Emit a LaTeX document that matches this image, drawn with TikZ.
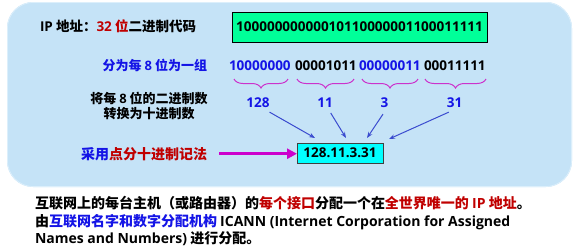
\documentclass[tikz,border=0pt]{standalone}
\usepackage{fontspec}
\setmainfont{Noto Sans CJK SC}
\newfontfamily\lat{Open Sans}
\usetikzlibrary{decorations.pathreplacing,arrows.meta}

\definecolor{panel}{HTML}{C5E3F7}
\definecolor{panelrim}{HTML}{DCEFFB}
\definecolor{bitgreen}{HTML}{00FF99}
\definecolor{ipcyan}{HTML}{00FFFF}
\definecolor{txtblue}{HTML}{1414E6}
\definecolor{txtred}{HTML}{C00000}
\definecolor{bracecol}{HTML}{CC33CC}
\definecolor{arrowblue}{HTML}{3A4BCF}
\definecolor{magentaarrow}{HTML}{CC00CC}

\tikzset{
  txt/.style={inner sep=0pt, outer sep=0pt, font=\fontsize{13.5}{16}\selectfont\bfseries},
  small/.style={txt, font=\fontsize{13}{15}\selectfont\bfseries},
  body/.style={txt, font=\fontsize{14}{18}\selectfont\bfseries, anchor=base west},
  group/.style={txt, anchor=base west},
  grpbrace/.style={draw=bracecol, line width=1pt,
    decorate, decoration={brace, mirror, amplitude=9pt}},
  numarrow/.style={draw=arrowblue, line width=1pt,
    -{Stealth[length=6pt,width=4.5pt]}},
  bigarrow/.style={draw=magentaarrow, line width=3.5pt,
    -{Triangle[length=10pt,width=10pt]}},
}

\begin{document}
\begin{tikzpicture}[x=1pt,y=-1pt]
\useasboundingbox (0,0) rectangle (581,247);

% background panel
\fill[panel, rounded corners=26pt] (7,2) rectangle (572,187);
\draw[panelrim, line width=0.8pt, rounded corners=26pt] (7.4,2.4) rectangle (571.6,186.6);

% 32-bit address
\node[txt, anchor=base west] (title) at (40,31)
  {{\lat IP} 地址：{\color{txtred}{\lat 32} 位}二进制代码};
\node[txt, draw=black, fill=bitgreen, line width=0.9pt,
      minimum width=255pt, minimum height=30pt] (bits) at (359.5,27)
  {\lat 10000000000010110000001100011111};

% split into four octets
\node[small, anchor=base east, text=txtblue] (splitlbl) at (207,70)
  {分为每 {\lat 8} 位为一组};
\node[group, text=txtblue] (g1) at (229,70) {\lat 10000000};
\node[group, text=black]   (g2) at (295,70) {\lat 00001011};
\node[group, text=txtblue] (g3) at (359,70) {\lat 00000011};
\node[group, text=black]   (g4) at (424,70) {\lat 00011111};

\draw[grpbrace] (234,79) -- (288,79);
\draw[grpbrace] (297,79) -- (354,79);
\draw[grpbrace] (362,79) -- (418,79);
\draw[grpbrace] (425,79) -- (486,79);

% decimal values
\node[small, anchor=base] (conv1) at (149,103) {将每 {\lat 8} 位的二进制数};
\node[small, anchor=base] (conv2) at (149,118) {转换为十进制数};

\node[txt, anchor=base, text=txtblue] (d1) at (258,107) {\lat 128};
\node[txt, anchor=base, text=txtblue] (d2) at (325,107) {\lat 11};
\node[txt, anchor=base, text=txtblue] (d3) at (384.5,107) {\lat 3};
\node[txt, anchor=base, text=txtblue] (d4) at (454.5,107) {\lat 31};

% dotted decimal result
\node[txt, draw=black!75, fill=ipcyan, line width=1pt,
      minimum width=86pt, minimum height=20pt] (ipbox) at (340,153)
  {\lat 128.11.3.31};

\draw[numarrow] ([shift={(0pt,-5pt)}]d1.south east) -- ([shift={(18pt,5pt)}]ipbox.north west);
\draw[numarrow] ([shift={(-2pt,-6pt)}]d2.south east) -- ([shift={(49pt,5pt)}]ipbox.north west);
\draw[numarrow] ([shift={(-1.5pt,-7pt)}]d3.south) -- ([shift={(70pt,5pt)}]ipbox.north west);
\draw[numarrow] ([shift={(2pt,-5pt)}]d4.south west) -- ([shift={(92pt,4pt)}]ipbox.north west);

\node[txt, font=\fontsize{14}{16}\selectfont\bfseries, anchor=base east] (method) at (207,159)
  {{\color{txtblue}采用}{\color{txtred}点分十进制记法}};
\draw[bigarrow] ([xshift=12pt]method.east) -- (method.east -| ipbox.west);

% explanatory text
\node[body] (note1) at (35,208.5)
  {互联网上的每台主机（或路由器）的{\color{txtred}每个接口}分配一个在{\color{txtred}全世界唯一的 {\lat IP} 地址}。};
\node[body] (note2) at (35,226)
  {由{\color{txtblue}互联网名字和数字分配机构} {\lat ICANN (Internet Corporation for Assigned}};
\node[body] (note3) at (35,243.5)
  {{\lat Names and Numbers)} 进行分配。};
\end{tikzpicture}
\end{document}
